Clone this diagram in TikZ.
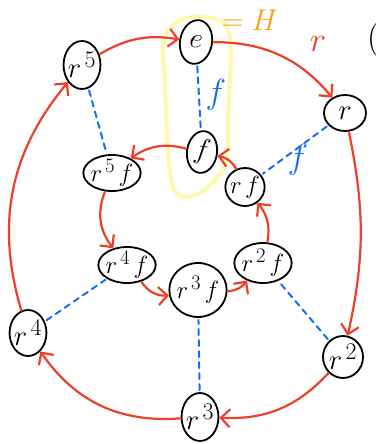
\documentclass[tikz,border=0pt]{standalone}
\usepackage{amsmath}
\usepackage{graphicx}
\usepackage{tikz}
\usetikzlibrary{arrows.meta,shapes.geometric}

\definecolor{penred}{RGB}{238,64,40}
\definecolor{penblue}{RGB}{20,110,245}
\definecolor{penorange}{RGB}{250,160,20}
\definecolor{penyellow}{RGB}{255,248,175}

\newcommand{\hand}[2][1.15]{\scalebox{#1}{#2}}
% r^n and r^n f with a little air between the glyphs
\newcommand{\rpow}[1]{r\mkern2mu^{#1}}
\newcommand{\rfl}[1]{\rpow{#1}\mkern2.5mu f}

\begin{document}
\begin{tikzpicture}[
        x=1pt,
        y=1pt,
        line cap=round,
        line join=round,
        >={Straight Barb[length=9pt,width=18pt]},
        elem/.style={ellipse, draw, line width=1.8pt, inner sep=-1pt, font=\Huge},
        rmove/.style={->, penred, line width=2.2pt},
        fmove/.style={penblue, line width=2pt, dash pattern=on 6pt off 5pt,
            shorten <=2pt, shorten >=2pt}
    ]

    \useasboundingbox (0,0) rectangle (375,444);

    % subgroup H = {e, f}
    \draw[penyellow, line width=4pt]
    plot[smooth cycle, tension=0.6] coordinates {
        (164,404) (183,425) (215,425) (230,406) (228,324)
        (225,279) (198,250) (175,253) (168,294) (165,364)};

    % outer ring: rotations
    \node[elem, minimum width=32pt, minimum height=44pt, rotate=-10] (e) at (196,402) {\hand{$e$}};
    \node[elem, minimum width=42pt, minimum height=36pt] (r) at (345,331) {\hand{$r$}};
    \node[elem, minimum width=40pt, minimum height=42pt] (r2) at (343,87) {\hand{$\rpow{2}$}};
    \node[elem, minimum width=34pt, minimum height=48pt] (r3) at (200,27) {\hand{$\rpow{3}$}};
    \node[elem, minimum width=34pt, minimum height=46pt] (r4) at (28,111) {\hand{$\rpow{4}$}};
    \node[elem, minimum width=34pt, minimum height=48pt] (r5) at (82,379) {\hand{$\rpow{5}$}};

    % inner ring: reflections
    \node[elem, minimum width=30pt, minimum height=42pt, rotate=-8] (f) at (202,292) {\hand{$f$}};
    \node[elem, minimum width=38pt, minimum height=38pt] (rf) at (245,257) {\hand[1]{$r\mkern2.5mu f$}};
    \node[elem, minimum width=48pt, minimum height=40pt] (r2f) at (263,181) {\hand[1]{$\rfl{2}$}};
    \node[elem, minimum width=34pt, minimum height=54pt] (r3f) at (198,154) {\hand[1]{$\rfl{3}$}};
    \node[elem, minimum width=52pt, minimum height=36pt] (r4f) at (127,179) {\hand[1]{$\rfl{4}$}};
    \node[elem, minimum width=48pt, minimum height=36pt] (r5f) at (112,271) {\hand[1]{$\rfl{5}$}};

    \draw[rmove] (e) to[bend left=25] (r);
    \draw[rmove] (r) to[bend left=12] (r2);
    \draw[rmove] (r2) to[bend left=25] (r3);
    \draw[rmove] (r3) to[bend left=30] (r4);
    \draw[rmove] (r4) to[bend left=28] (r5);
    \draw[rmove] (r5) to[bend left=20] (e);

    \draw[rmove] (f) to[bend right=25] (r5f);
    \draw[rmove] (r5f) to[bend right=30] (r4f);
    \draw[rmove] (r4f) to[bend right=30] (r3f);
    \draw[rmove] (r3f) to[bend right=25] (r2f);
    \draw[rmove] (r2f) to[bend right=25] (rf);
    \draw[rmove] (rf) to[bend right=25] (f);

    \draw[fmove] (e) -- (f);
    \draw[fmove] (r) -- (rf);
    \draw[fmove] (r2) -- (r2f);
    \draw[fmove] (r3) -- (r3f);
    \draw[fmove] (r4) -- (r4f);
    \draw[fmove] (r5) -- (r5f);

    \node[penred, font=\Huge] (rlab) at (318,400) {\hand[1.4]{$r$}};
    \node[penblue, font=\Huge] (flab) at (216,349) {\hand[1.4]{$f$}};
    \node[penblue, font=\Huge] (flab2) at (298,284) {\hand[1.4]{$f$}};
    \node[penorange, font=\Huge] (hlab) at (250,424) {\hand[1.2]{$=H$}};
    \node[anchor=west, font=\Huge] (cut) at (364,404) {\hand[1.4]{(}};

\end{tikzpicture}
\end{document}
